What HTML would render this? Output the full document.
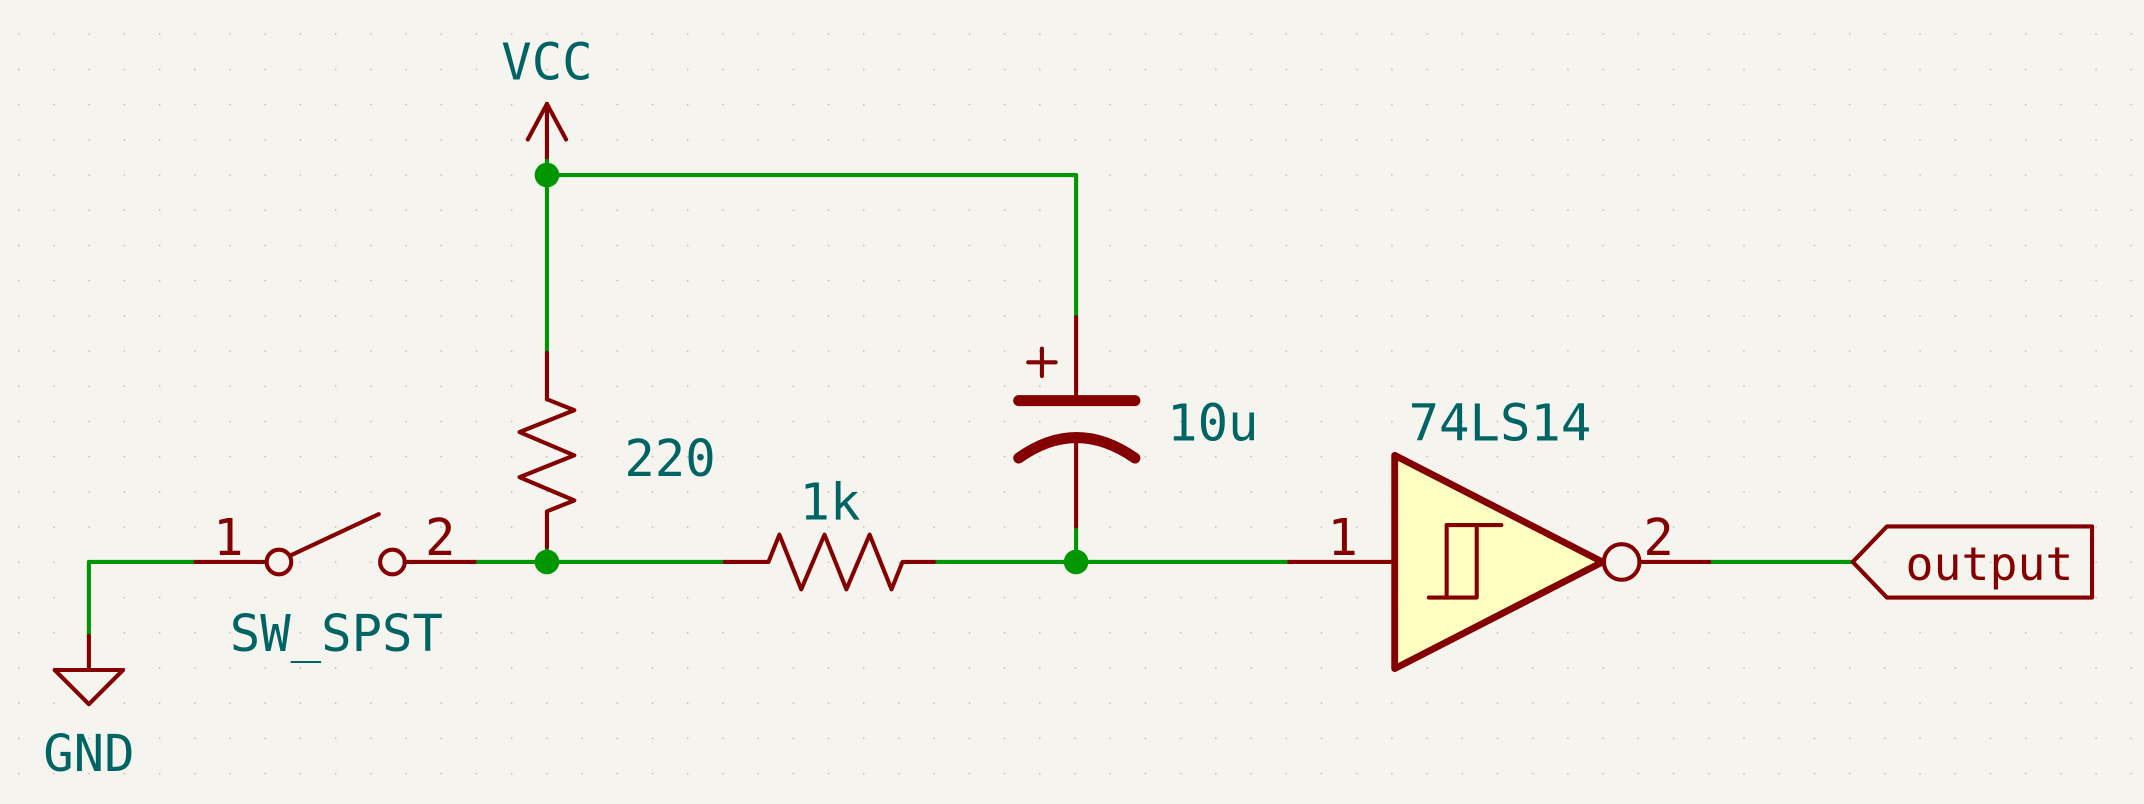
<!DOCTYPE html>
<html><head><meta charset="utf-8"><style>
html,body{margin:0;padding:0;background:#f5f4ef;}
svg{display:block;}
text{font-family:"DejaVu Sans Mono","Liberation Mono",monospace;}
</style></head><body>
<svg width="2144" height="804" viewBox="0 0 1568 588" xmlns="http://www.w3.org/2000/svg">
<defs>
<pattern id="grid" x="13.2" y="24.5" width="25.75" height="25.75" patternUnits="userSpaceOnUse">
<rect x="-1" y="-1" width="2" height="2" fill="#b4b4b4"/>
</pattern>
</defs>
<rect width="1568" height="588" fill="#f5f4ef"/>
<rect x="12" y="23" width="1556" height="565" fill="url(#grid)"/>
<g fill="none" stroke-linecap="round" stroke-linejoin="round">
<g stroke="#009600" stroke-width="3">
<polyline points="65,465 65,411 143,411"/>
<line x1="347" y1="411" x2="530" y2="411"/>
<line x1="683" y1="411" x2="943" y2="411"/>
<polyline points="400,258 400,128 787,128 787,232"/>
<line x1="400" y1="115" x2="400" y2="128"/>
<line x1="400" y1="400" x2="400" y2="411"/>
<line x1="787" y1="385" x2="787" y2="411"/>
<line x1="1250" y1="411" x2="1355" y2="411"/>
</g>
<g stroke="#840000" stroke-width="3">
<g>
<line x1="65" y1="465" x2="65" y2="490"/>
<polygon points="40,490 90,490 65,515"/>
</g>
<g>
<line x1="400" y1="76" x2="400" y2="115"/>
<polyline points="386,102 400,76 414,102"/>
</g>
<g>
<line x1="143" y1="411" x2="195" y2="411"/>
<circle cx="204" cy="411" r="9"/>
<line x1="213" y1="406" x2="277" y2="376"/>
<circle cx="287" cy="411" r="9"/>
<line x1="296" y1="411" x2="347" y2="411"/>
</g>
<g>
<line x1="400" y1="258" x2="400" y2="292"/>
<polyline points="400,292 420,300 380,316 420,333 380,349 420,366 400,374 400,400"/>
</g>
<g>
<polyline points="530,411 562,411 570,391 586,431 603,391 619,431 636,391 652,431 660,411 683,411"/>
</g>
<g>
<line x1="787" y1="232" x2="787" y2="293"/>
<line x1="745" y1="293" x2="830" y2="293" stroke-width="8"/>
<path d="M745,335 Q787,305 830,335" stroke-width="8"/>
<line x1="787" y1="320" x2="787" y2="385"/>
<line x1="752" y1="265" x2="772" y2="265"/>
<line x1="762" y1="255" x2="762" y2="275"/>
</g>
<g>
<line x1="943" y1="411" x2="1020" y2="411"/>
<polygon points="1020,333 1020,489 1172,411" fill="#ffffc2" stroke-width="5"/>
<polyline points="1045,437 1080,437 1080,384"/>
<polyline points="1058,437 1058,384 1098,384"/>
<circle cx="1186" cy="411" r="13"/>
<line x1="1199" y1="411" x2="1250" y2="411"/>
</g>
<polygon points="1355,411 1380,385 1530,385 1530,437 1380,437"/>
</g>
</g>
<g fill="#009600">
<circle cx="400" cy="128" r="9"/>
<circle cx="400" cy="411" r="9"/>
<circle cx="787" cy="411" r="9"/>
</g>
<g fill="#006464" font-size="37" text-anchor="middle">
<text x="400" y="58">VCC</text>
<text x="65" y="564">GND</text>
<text x="246" y="476">SW_SPST</text>
<text x="490" y="348">220</text>
<text x="607" y="380">1k</text>
<text x="887" y="322">10u</text>
<text x="1097" y="322">74LS14</text>
</g>
<g fill="#840000" font-size="37" text-anchor="middle">
<text x="167" y="406">1</text>
<text x="322" y="406">2</text>
<text x="982" y="406">1</text>
<text x="1213" y="406">2</text>
<text x="1455" y="424" font-size="34">output</text>
</g>
</svg>
</body></html>
